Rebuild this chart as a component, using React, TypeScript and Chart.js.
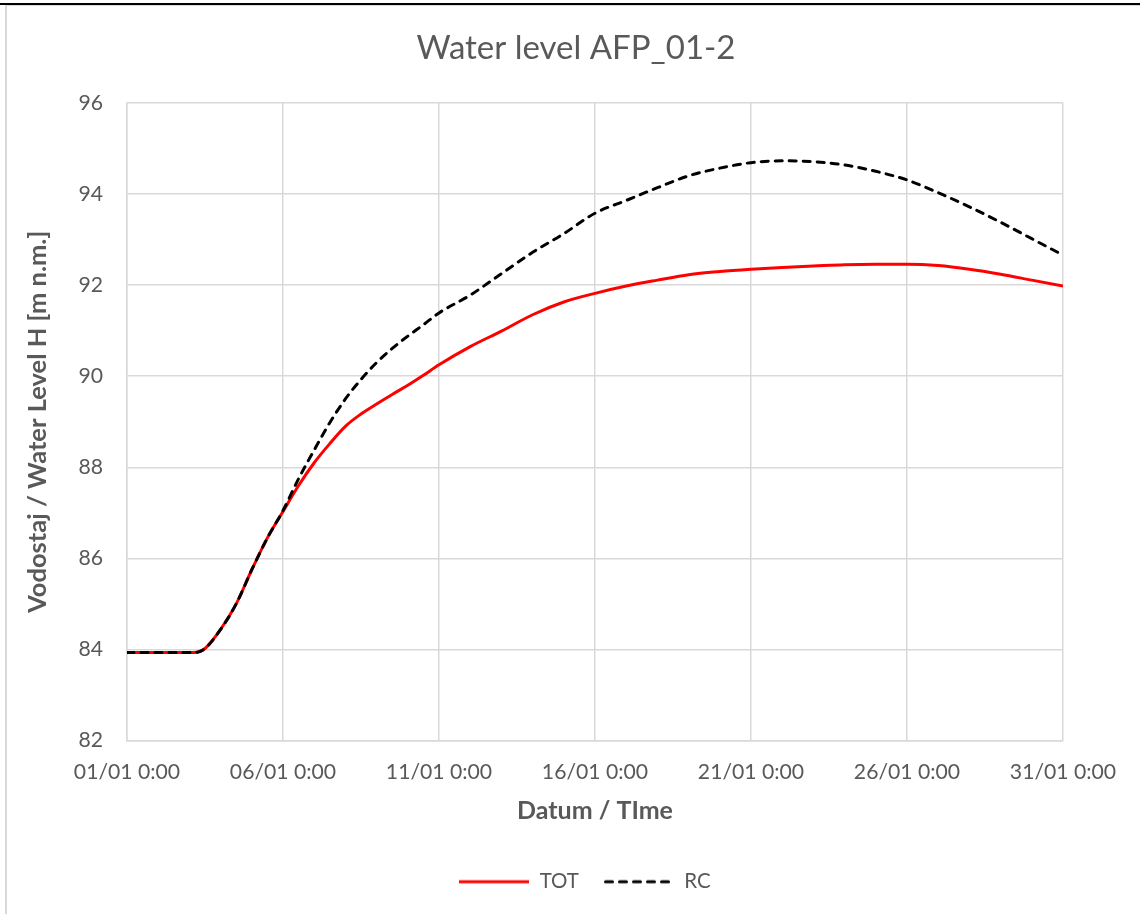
import React, { useEffect, useRef } from "react";
import { Chart, registerables } from "chart.js";

Chart.register(...registerables);

// Time in days since 01/01 0:00
const days = [0, 1, 2, 2.25, 2.5, 3, 3.5, 4, 4.5, 5, 5.5, 6, 6.5, 7, 7.5, 8, 8.5, 9, 9.5, 10, 11, 12, 13, 14, 15, 16, 17, 18, 19, 20, 21, 22, 23, 24, 25, 26, 27, 28, 29, 30];

const totLevels = [83.93, 83.93, 83.93, 83.94, 84.02, 84.44, 85.0, 85.75, 86.45, 87.03, 87.6, 88.1, 88.52, 88.9, 89.17, 89.39, 89.6, 89.8, 90.02, 90.25, 90.65, 90.99, 91.35, 91.63, 91.82, 91.98, 92.11, 92.23, 92.3, 92.35, 92.39, 92.42, 92.45, 92.46, 92.46, 92.43, 92.35, 92.24, 92.11, 91.98];

const rcLevels = [83.93, 83.93, 83.93, 83.94, 84.02, 84.44, 85.0, 85.75, 86.45, 87.05, 87.75, 88.38, 88.98, 89.5, 89.93, 90.3, 90.61, 90.88, 91.13, 91.39, 91.78, 92.25, 92.72, 93.13, 93.58, 93.86, 94.14, 94.4, 94.57, 94.69, 94.73, 94.71, 94.64, 94.5, 94.31, 94.03, 93.72, 93.38, 93.02, 92.66];

const seriesNames = ["TOT", "RC"];
const chartTitle = "Water level AFP_01-2";
const yAxisTitle = "Vodostaj / Water Level H [m n.m.]";
const xAxisTitle = "Datum / TIme";
const xMin = 0;
const xMax = 30;
const xStep = 5;
const yMin = 82;
const yMax = 96;
const yStep = 2;

const FONT = "Lato, 'Open Sans', sans-serif";
const TEXT = "#595959";
const GRID = "#d9d9d9";

const fmtDay = (v: number) => {
  const d = Math.round(v) + 1;
  return `${String(d).padStart(2, "0")}/01 0:00`;
};

function legendSwatch(color: string, dash: number[]) {
  const c = document.createElement("canvas");
  c.width = 70;
  c.height = 6;
  const g = c.getContext("2d")!;
  g.strokeStyle = color;
  g.lineWidth = 3;
  g.lineCap = dash.length ? "round" : "butt";
  g.setLineDash(dash);
  g.beginPath();
  g.moveTo(dash.length ? 1.5 : 0, 3);
  g.lineTo(dash.length ? 68.5 : 70, 3);
  g.stroke();
  return c;
}

const legendShift = {
  id: "legendShift",
  afterLayout(chart: any) {
    if (chart.legend) {
      chart.legend.left += 9;
      chart.legend.right += 9;
    }
  },
};

export default function App() {
  const ref = useRef<HTMLCanvasElement | null>(null);

  useEffect(() => {
    if (!ref.current) return;
    const totSwatch = legendSwatch("#ff0000", []);
    const rcSwatch = legendSwatch("#000000", [7, 7]);
    const chart = new Chart(ref.current, {
      type: "line",
      data: {
        datasets: [
          {
            label: seriesNames[0],
            data: days.map((d, i) => ({ x: d, y: totLevels[i] })),
            borderColor: "#ff0000",
            backgroundColor: "#ff0000",
            borderWidth: 3,
            pointRadius: 0,
            pointStyle: totSwatch,
            cubicInterpolationMode: "monotone",
            order: 1,
          },
          {
            label: seriesNames[1],
            data: days.map((d, i) => ({ x: d, y: rcLevels[i] })),
            borderColor: "#000000",
            backgroundColor: "#000000",
            borderWidth: 3,
            borderDash: [7, 7],
            borderCapStyle: "round",
            pointRadius: 0,
            pointStyle: rcSwatch,
            cubicInterpolationMode: "monotone",
            order: 0,
          },
        ],
      },
      plugins: [legendShift],
      options: {
        responsive: false,
        animation: false,
        layout: { padding: { left: 12, right: 0, top: 0, bottom: 12 } },
        plugins: {
          title: {
            display: true,
            text: chartTitle,
            color: TEXT,
            font: { family: FONT, size: 33, weight: "normal" },
            padding: { top: 28.2, bottom: 35.2 },
          },
          legend: {
            display: true,
            position: "bottom",
            labels: {
              usePointStyle: true,
              pointStyleWidth: 70,
              padding: 25,
              color: TEXT,
              font: { family: FONT, size: 20.5 },
              sort: (a: any, b: any) => a.datasetIndex - b.datasetIndex,
            },
          },
          tooltip: { enabled: false },
        },
        scales: {
          x: {
            type: "linear",
            min: xMin,
            max: xMax,
            afterFit: (s: any) => {
              s.height = 106;
              s.paddingRight = 77;
            },
            ticks: {
              stepSize: xStep,
              color: TEXT,
              padding: 19,
              maxRotation: 0,
              font: { family: FONT, size: 21.2 },
              callback: (v: any) => fmtDay(Number(v)),
            },
            grid: { color: GRID, lineWidth: 1.5, drawTicks: false },
            border: { color: GRID, width: 1.5 },
            title: {
              display: true,
              text: xAxisTitle,
              color: TEXT,
              font: { family: FONT, size: 25, weight: "bold" },
              padding: { top: 0, bottom: 21 },
            },
          },
          y: {
            min: yMin,
            max: yMax,
            afterFit: (s: any) => {
              s.width = 115;
            },
            ticks: {
              stepSize: yStep,
              color: TEXT,
              padding: 24,
              font: { family: FONT, size: 21.2 },
            },
            grid: { color: GRID, lineWidth: 1.5, drawTicks: false },
            border: { color: GRID, width: 1.5 },
            title: {
              display: true,
              text: yAxisTitle,
              color: TEXT,
              font: { family: FONT, size: 25.5, weight: "bold" },
              padding: { top: 10, bottom: 0 },
            },
          },
        },
      },
    });
    return () => chart.destroy();
  }, []);

  return (
    <div style={{ position: "fixed", left: 0, top: 0, width: 1140, height: 914, background: "#fff", overflow: "hidden" }}>
      <div style={{ position: "absolute", left: 0, top: 3, width: 1140, height: 2, background: "#000" }} />
      <div style={{ position: "absolute", left: 5, top: 5, width: 1200, height: 1000, borderLeft: "2px solid #d9d9d9", borderTop: "1px solid #d9d9d9" }} />
      <canvas ref={ref} width={1140} height={914} style={{ position: "absolute", left: 0, top: 0 }} />
    </div>
  );
}
